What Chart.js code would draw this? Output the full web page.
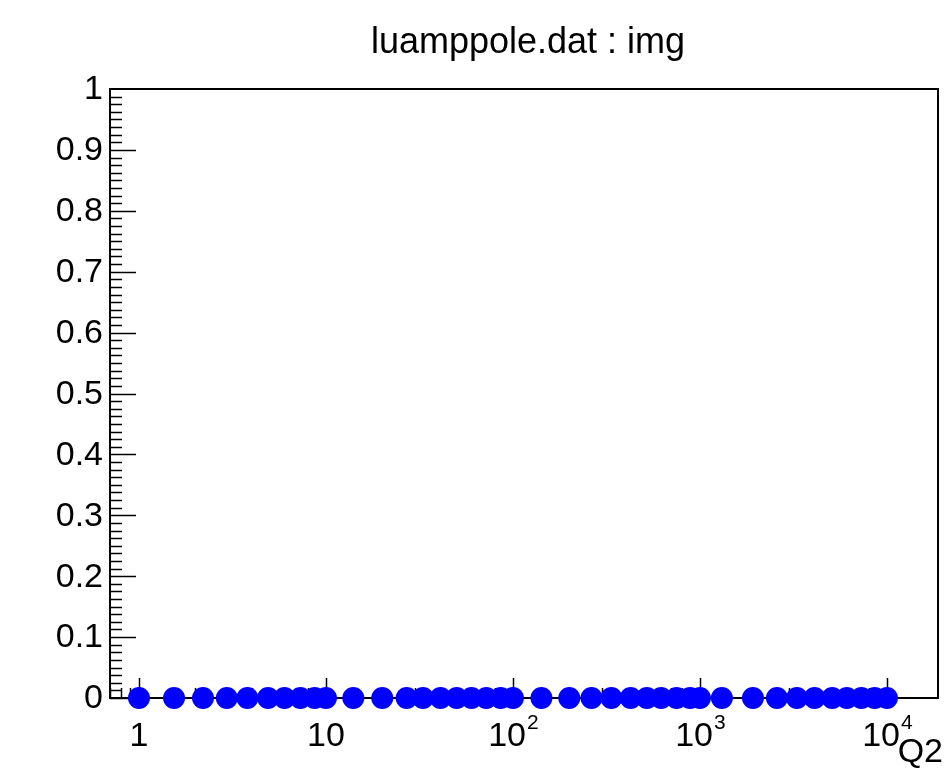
<!DOCTYPE html>
<html>
<head>
<meta charset="utf-8">
<title>luamppole.dat : img</title>
<script src="https://cdn.jsdelivr.net/npm/chart.js@4"></script>
<style>
  body { margin: 0; background: #fff; }
  canvas { display: block; }
</style>
</head>
<body>
<canvas id="imgChart" width="952" height="773"></canvas>
<script>
// data (all img values sit at 0)
const q2Values = [
    1, 1.54, 2.2, 2.95, 3.8, 4.9, 6, 7.3, 8.7,
    10, 14, 20, 27, 33, 41, 50, 60, 72, 86,
    100, 142, 200, 263, 336, 426, 520, 620, 750, 885,
    1000, 1310, 1920, 2580, 3300, 4100, 5100, 6100, 7300, 8600,
    10000
];
const imgValues = [
    0, 0, 0, 0, 0, 0, 0, 0, 0,
    0, 0, 0, 0, 0, 0, 0, 0, 0, 0,
    0, 0, 0, 0, 0, 0, 0, 0, 0, 0,
    0, 0, 0, 0, 0, 0, 0, 0, 0, 0,
    0
];

const titleText = 'luamppole.dat : img';
const xAxisTitle = 'Q2';
const yTickValues = [0, 0.1, 0.2, 0.3, 0.4, 0.5, 0.6, 0.7, 0.8, 0.9, 1];
const yTickLabels = ['0', '0.1', '0.2', '0.3', '0.4', '0.5', '0.6', '0.7', '0.8', '0.9', '1'];
const xTickValues = [1, 10, 100, 1000, 10000];
const xTickBase = ['1', '10', '10', '10', '10'];
const xTickExp = ['', '', '2', '3', '4'];

const FONT = '"Liberation Sans", Arial, Helvetica, sans-serif';

// ROOT-like frame with inward ticks, drawn from the chart's own scales
const rootFrame = {
    id: 'rootFrame',
    beforeDatasetsDraw(chart) {
        const { ctx, chartArea: a, scales: { x, y } } = chart;
        ctx.save();
        ctx.strokeStyle = '#000';

        // y ticks: 8 small steps per labelled step
        ctx.lineWidth = 1.5;
        const yMinorPerMajor = 8;
        for (let i = 0; i < yTickValues.length - 1; i++) {
            const v0 = yTickValues[i], v1 = yTickValues[i + 1];
            for (let k = 0; k < yMinorPerMajor; k++) {
                const py = Math.round(y.getPixelForValue(v0 + (v1 - v0) * k / yMinorPerMajor)) + 0.5;
                const len = k === 0 ? 26 : 12;
                ctx.beginPath();
                ctx.moveTo(a.left, py);
                ctx.lineTo(a.left + len, py);
                ctx.stroke();
            }
        }

        // x ticks on the log axis: 1..9 per decade
        for (let d = -1; d <= 4; d++) {
            for (let m = 1; m <= 9; m++) {
                const v = m * Math.pow(10, d);
                if (v < x.min || v > x.max) continue;
                const px = Math.round(x.getPixelForValue(v)) + 0.5;
                const len = m === 1 ? 20 : 10;
                ctx.beginPath();
                ctx.moveTo(px, a.bottom);
                ctx.lineTo(px, a.bottom - len);
                ctx.stroke();
            }
        }

        // frame
        ctx.lineWidth = 2;
        ctx.strokeRect(a.left, a.top, a.right - a.left, a.bottom - a.top);
        ctx.restore();
    },
    afterDraw(chart) {
        const { ctx, chartArea: a, scales: { x, y } } = chart;
        ctx.save();
        ctx.fillStyle = '#000';

        // title
        ctx.font = '36px ' + FONT;
        ctx.textAlign = 'center';
        ctx.textBaseline = 'alphabetic';
        ctx.fillText(titleText, 528, 53);

        // y labels
        ctx.font = '34px ' + FONT;
        ctx.textAlign = 'right';
        ctx.textBaseline = 'middle';
        yTickValues.forEach((v, i) => {
            ctx.fillText(yTickLabels[i], a.left - 7, y.getPixelForValue(v) + 1);
        });

        // x labels with exponents
        ctx.textAlign = 'left';
        ctx.textBaseline = 'alphabetic';
        xTickValues.forEach((v, i) => {
            const px = x.getPixelForValue(v);
            ctx.font = '34px ' + FONT;
            const wb = ctx.measureText(xTickBase[i]).width;
            ctx.font = '21px ' + FONT;
            const we = xTickExp[i] ? ctx.measureText(xTickExp[i]).width : 0;
            const start = px - (wb + we) / 2;
            ctx.font = '34px ' + FONT;
            ctx.fillText(xTickBase[i], start, 746);
            if (xTickExp[i]) {
                ctx.font = '21px ' + FONT;
                ctx.fillText(xTickExp[i], start + wb + 1, 729);
            }
        });

        // axis title
        ctx.font = '34px ' + FONT;
        ctx.textAlign = 'right';
        ctx.fillText(xAxisTitle, 943, 762);
        ctx.restore();
    }
};

const ctx = document.getElementById('imgChart').getContext('2d');
new Chart(ctx, {
    type: 'scatter',
    data: {
        datasets: [{
            label: 'img',
            data: q2Values.map((q, i) => ({ x: q, y: imgValues[i] })),
            backgroundColor: '#0000ff',
            borderColor: '#0000ff',
            borderWidth: 0,
            pointRadius: 11,
            pointHoverRadius: 11,
            clip: false
        }]
    },
    options: {
        responsive: false,
        animation: false,
        devicePixelRatio: 1,
        layout: { padding: { left: 110, right: 14, top: 89, bottom: 75 } },
        scales: {
            x: { type: 'logarithmic', min: 0.7, max: 18750, display: false },
            y: { type: 'linear', min: 0, max: 1, display: false }
        },
        plugins: {
            legend: { display: false },
            tooltip: { enabled: false }
        }
    },
    plugins: [rootFrame]
});
</script>
</body>
</html>
